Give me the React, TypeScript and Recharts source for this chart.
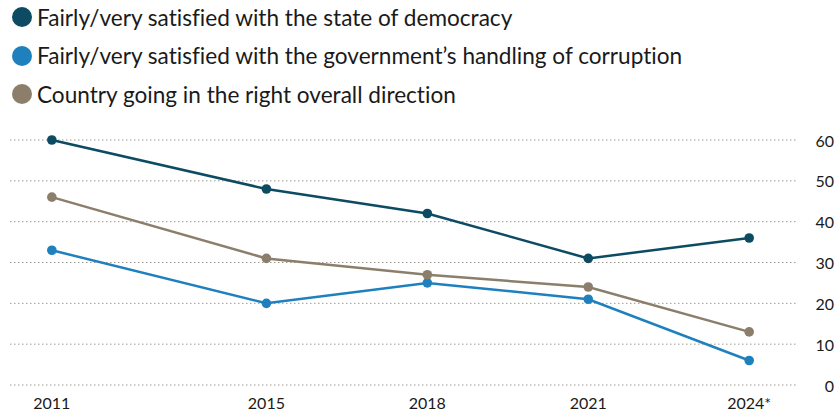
import React from "react";
import { LineChart, Line, XAxis, YAxis, CartesianGrid } from "recharts";

const years = [2011, 2015, 2018, 2021, 2024];
const democracy = [60, 48, 42, 31, 36];
const corruption = [33, 20, 25, 21, 6];
const direction = [46, 31, 27, 24, 13];
const yTicks = [0, 10, 20, 30, 40, 50, 60];

const series = [
  { key: "democracy", label: "Fairly/very satisfied with the state of democracy", color: "#0d4b62" },
  { key: "corruption", label: "Fairly/very satisfied with the government\u2019s handling of corruption", color: "#1f80be" },
  { key: "direction", label: "Country going in the right overall direction", color: "#8b7f6c" },
];

const data = years.map((year, i) => ({
  year,
  democracy: democracy[i],
  corruption: corruption[i],
  direction: direction[i],
}));

const FONT = "Lato, 'Open Sans', sans-serif";

const YTick = ({ x, y, payload }: any) => (
  <text x={x + 28} y={y} textAnchor="end" dominantBaseline="central" fill="#1a1a1a" fontSize={16} fontFamily={FONT}>
    {payload.value}
  </text>
);

const XTick = ({ x, y, payload }: any) => (
  <text x={x} y={y + 16} textAnchor="middle" fill="#1a1a1a" fontSize={16} fontFamily={FONT}>
    {payload.value === 2024 ? "2024*" : payload.value}
  </text>
);

export default function App() {
  return (
    <div style={{ position: "fixed", left: 0, top: 0, width: 840, height: 417, background: "#fff" }}>
      <div
        style={{
          position: "absolute",
          left: 12,
          top: -2,
          fontFamily: FONT,
          fontSize: 22.6,
          color: "#1a1a1a",
          fontVariantLigatures: "none",
        }}
      >
        {series.map((s) => (
          <div key={s.key} style={{ display: "flex", alignItems: "center", height: 38.5 }}>
            <span
              style={{ width: 20, height: 20, borderRadius: 10, background: s.color, marginRight: 5, flexShrink: 0 }}
            />
            <span>{s.label}</span>
          </div>
        ))}
      </div>
      <LineChart
        width={840}
        height={417}
        data={data}
        margin={{ top: 140, right: 0, left: 10, bottom: 0 }}
      >
        <CartesianGrid vertical={false} stroke="#9e9a93" strokeDasharray="1.5 2.5" />
        <XAxis
          dataKey="year"
          type="number"
          domain={[2010.22, 2024.91]}
          ticks={years}
          axisLine={false}
          tickLine={false}
          tick={<XTick />}
          height={32}
          interval={0}
        />
        <YAxis
          orientation="right"
          domain={[0, 60]}
          ticks={yTicks}
          axisLine={false}
          tickLine={false}
          tick={<YTick />}
          width={42}
          interval={0}
        />
        {series.map((s) => (
          <Line
            key={s.key}
            dataKey={s.key}
            stroke={s.color}
            strokeWidth={2.5}
            dot={{ r: 4.8, fill: s.color, stroke: s.color, strokeWidth: 0 }}
            activeDot={false}
            isAnimationActive={false}
          />
        ))}
      </LineChart>
    </div>
  );
}
